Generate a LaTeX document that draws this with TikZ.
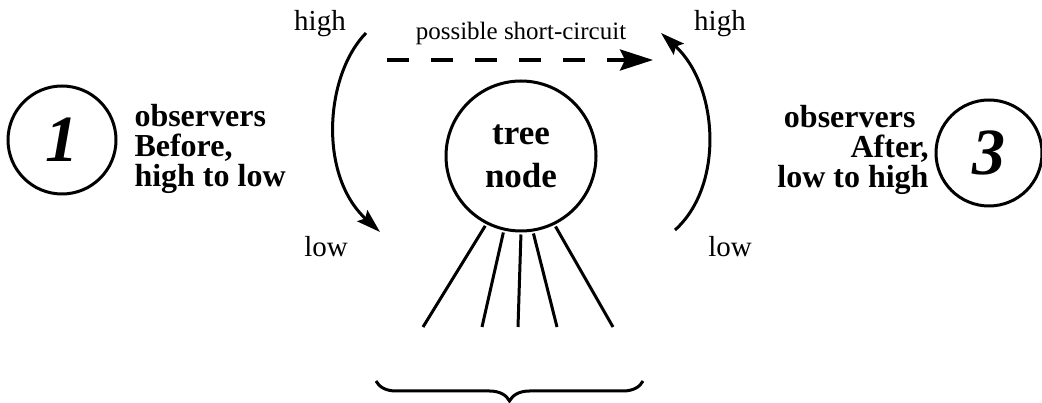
\documentclass[tikz,border=0pt]{standalone}
\usepackage{fontspec}
\setmainfont{Liberation Serif}
\usetikzlibrary{arrows.meta,positioning,calc,decorations.pathreplacing}

\begin{document}
\begin{tikzpicture}[
		x=1pt,y=-1pt,
		line width=3pt,
		ring/.style={draw,circle,inner sep=0pt,minimum size=#1},
		sidetext/.style={inner sep=0pt,font=\fontsize{32}{30}\selectfont\bfseries},
		lbl/.style={inner sep=0pt,anchor=base,font=\fontsize{29}{32}\selectfont},
		flow/.style={-{Stealth[length=24pt,width=15pt,inset=4pt]}},
	]
	\useasboundingbox (0,0) rectangle (1042,403);

	% the tree node with its children
	\node[ring=150pt,align=center,font=\fontsize{35}{43}\selectfont\bfseries] (tree) at (521,156) {tree\\node};
	\foreach \ang/\x [count=\i] in {-117.6/423,-103.9/482,-90/518,-81/557,-64.7/613}{
		\coordinate (leaf\i) at (\x,327);
		\draw[shorten <=2pt] (tree.\ang) -- (leaf\i);
	}
	\coordinate (brL) at (376,381);
	\coordinate (brR) at (643,381);
	\draw[decorate,decoration={brace,mirror,amplitude=20pt}] (brL) -- (brR);

	% step 1 and step 3
	\node[ring=108pt,font=\fontsize{66}{66}\selectfont\bfseries\itshape] (one) at (62,140) {1};
	\node[ring=106pt,font=\fontsize{66}{66}\selectfont\bfseries\itshape] (three) at (989,153) {3};
	\node[sidetext,anchor=west,align=left] (before) at (133,149) {observers\\Before,\\high to low};
	\node[sidetext,anchor=east,align=right] (after) at (930,150) {observers\hspace*{13pt}\\After,\\low to high};

	% walking down and up again
	\node[lbl] (hiLtext) at (320,31) {high};
	\node[lbl] (loLtext) at (326,257) {low};
	\node[lbl] (hiRtext) at (720,31) {high};
	\node[lbl] (loRtext) at (730,257) {low};
	\coordinate (hiL) at (366,33);
	\coordinate (loL) at (380,232);
	\coordinate (loR) at (675,230);
	\coordinate (hiR) at (661,33);
	\draw[flow] (hiL) .. controls (325,75) and (318,175) .. (loL);
	\draw[flow] (loR) .. controls (725,185) and (718,85) .. (hiR);

	% short-circuit
	\node[lbl,font=\fontsize{25}{28}\selectfont] (sctext) at (521,40) {possible short-circuit};
	\coordinate (scA) at (387,60);
	\coordinate (scB) at (653,60);
	\draw[line width=3.5pt,dash pattern=on 22pt off 22pt,-{Stealth[length=33pt,width=21pt,inset=5pt]}] (scA) -- (scB);

\end{tikzpicture}
\end{document}
